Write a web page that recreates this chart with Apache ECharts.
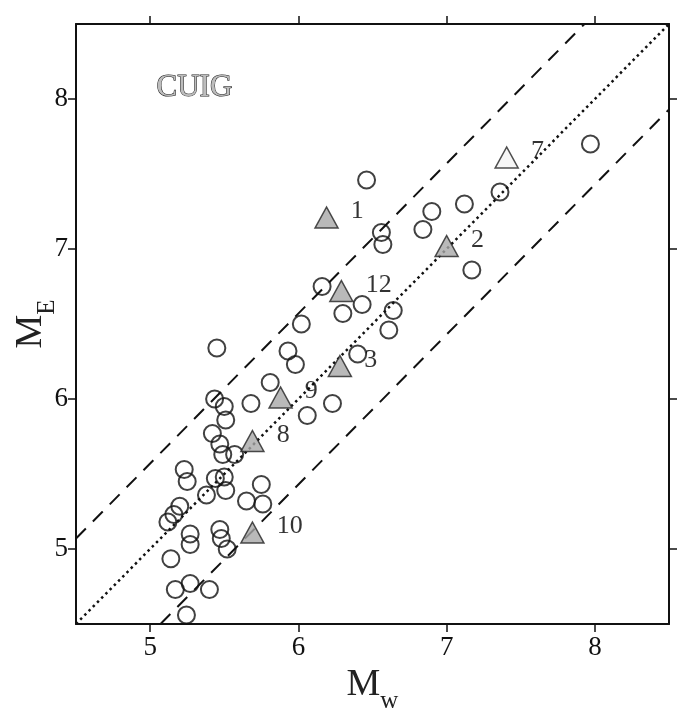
<!DOCTYPE html>
<html>
<head>
<meta charset="utf-8">
<script src="https://cdn.jsdelivr.net/npm/echarts@6/dist/echarts.min.js"></script>
<style>
html,body{margin:0;padding:0;background:#fff;}
#chart{width:687px;height:718px;}
</style>
</head>
<body>
<div id="chart"></div>
<script>
// ---- data ----
const xTicks = [5, 6, 7, 8];
const yTicks = [5, 6, 7, 8];

const circleX = [7.97, 7.36, 7.12, 6.90, 6.84, 6.56, 6.57, 6.46, 7.17, 6.16,
                 6.30, 6.43, 6.64, 6.61, 6.02, 5.93, 5.98, 6.40, 5.45, 5.81,
                 5.435, 5.50, 5.51, 5.68, 6.06, 6.23, 5.42, 5.47, 5.49, 5.57,
                 5.23, 5.25, 5.44, 5.50, 5.51, 5.38, 5.75, 5.65, 5.76, 5.20,
                 5.16, 5.12, 5.27, 5.27, 5.47, 5.48, 5.52, 5.14, 5.17, 5.27,
                 5.40, 5.245];
const circleY = [7.70, 7.38, 7.30, 7.25, 7.13, 7.11, 7.03, 7.46, 6.86, 6.75,
                 6.57, 6.63, 6.59, 6.46, 6.50, 6.32, 6.23, 6.30, 6.34, 6.11,
                 6.00, 5.95, 5.86, 5.97, 5.89, 5.97, 5.77, 5.70, 5.63, 5.63,
                 5.53, 5.45, 5.47, 5.48, 5.39, 5.36, 5.43, 5.32, 5.30, 5.285,
                 5.23, 5.18, 5.10, 5.03, 5.13, 5.07, 5.00, 4.935, 4.73, 4.77,
                 4.73, 4.56];

const triX = [6.19, 7.00, 6.28, 7.405, 5.69, 5.88, 5.69, 6.29];
const triY = [7.21, 7.02, 6.22, 7.61, 5.72, 6.01, 5.11, 6.72];
const triLabels = ['1', '2', '3', '7', '8', '9', '10', '12'];

const oneToOneX = [4.5, 8.5];
const oneToOneY = [4.5, 8.5];
const upperX = [4.5, 7.93];
const upperY = [5.07, 8.5];
const lowerX = [5.07, 8.5];
const lowerY = [4.5, 7.93];

// ---- chart ----
const SERIF = "Liberation Serif, Times New Roman, Times, serif";
const zip = (a, b) => a.map((v, i) => [v, b[i]]);

const chart = echarts.init(document.getElementById('chart'), null, {renderer: 'canvas'});

const axisCommon = {
  type: 'value', min: 4.5, max: 8.5,
  splitLine: {show: false},
  axisLine: {show: true, onZero: false, lineStyle: {color: '#111', width: 2}},
  axisTick: {show: true, inside: false, length: 8, lineStyle: {color: '#111', width: 1.5}},
};

const nameRich = {
  m: {fontFamily: SERIF, fontSize: 38, color: '#222', verticalAlign: 'bottom'},
  s: {fontFamily: SERIF, fontSize: 25, color: '#222', verticalAlign: 'bottom', padding: [0, 0, -10, 0]}
};

const option = {
  backgroundColor: '#fff',
  animation: false,
  grid: {left: 76, right: 18, top: 24, bottom: 94, outerBoundsMode: 'none', containLabel: false},
  xAxis: [
    Object.assign({}, axisCommon, {
      position: 'bottom',
      axisTick: Object.assign({}, axisCommon.axisTick, {customValues: xTicks}),
      axisLabel: {show: true, customValues: xTicks, margin: 10, color: '#111', fontFamily: SERIF, fontSize: 27},
      name: '{m|M}{s|w}', nameLocation: 'middle', nameGap: 42, nameMoveOverlap: false,
      nameTextStyle: {rich: nameRich}
    }),
    Object.assign({}, axisCommon, {
      position: 'top',
      axisTick: Object.assign({}, axisCommon.axisTick, {customValues: xTicks}),
      axisLabel: {show: false}
    })
  ],
  yAxis: [
    Object.assign({}, axisCommon, {
      position: 'left',
      axisTick: Object.assign({}, axisCommon.axisTick, {customValues: yTicks}),
      axisLabel: {show: true, customValues: yTicks, margin: 8, color: '#111', fontFamily: SERIF, fontSize: 27},
      name: '{m|M}{s|E}', nameLocation: 'middle', nameGap: 26, nameRotate: 90, nameMoveOverlap: false,
      nameTextStyle: {rich: nameRich}
    }),
    Object.assign({}, axisCommon, {
      position: 'right',
      axisTick: Object.assign({}, axisCommon.axisTick, {customValues: yTicks}),
      axisLabel: {show: false}
    })
  ],
  graphic: [{
    type: 'text', left: 156, top: 72,
    style: {text: 'CUIG', fontFamily: SERIF, fontSize: 31, fill: '#bdbdbd', stroke: '#222', lineWidth: 1}
  }],
  series: [
    {
      type: 'line', data: zip(oneToOneX, oneToOneY), symbol: 'none', silent: true,
      lineStyle: {color: '#111', width: 2.5, type: [2.5, 3.5]}, z: 1
    },
    {
      type: 'line', data: zip(upperX, upperY), symbol: 'none', silent: true,
      lineStyle: {color: '#111', width: 2, type: [14, 10]}, z: 1
    },
    {
      type: 'line', data: zip(lowerX, lowerY), symbol: 'none', silent: true,
      lineStyle: {color: '#111', width: 2, type: [14, 10]}, z: 1
    },
    {
      type: 'scatter', data: zip(circleX, circleY), symbol: 'circle', symbolSize: 17,
      itemStyle: {color: 'rgba(0,0,0,0)', borderColor: '#111', borderWidth: 2}, z: 3
    },
    {
      type: 'scatter', symbol: 'triangle', symbolSize: [23, 21],
      data: triX.map((x, i) => ({
        value: [x, triY[i]], name: triLabels[i],
        itemStyle: triLabels[i] === '7' ? {color: '#f4f4f4'} : undefined
      })),
      itemStyle: {color: '#a8a8a8', borderColor: '#222', borderWidth: 1.5},
      label: {show: true, position: 'right', distance: 12, offset: [0, -6], formatter: '{b}',
              fontFamily: SERIF, fontSize: 26, color: '#000', textBorderWidth: 0},
      z: 4
    }
  ]
};
chart.setOption(option);
</script>
</body>
</html>
